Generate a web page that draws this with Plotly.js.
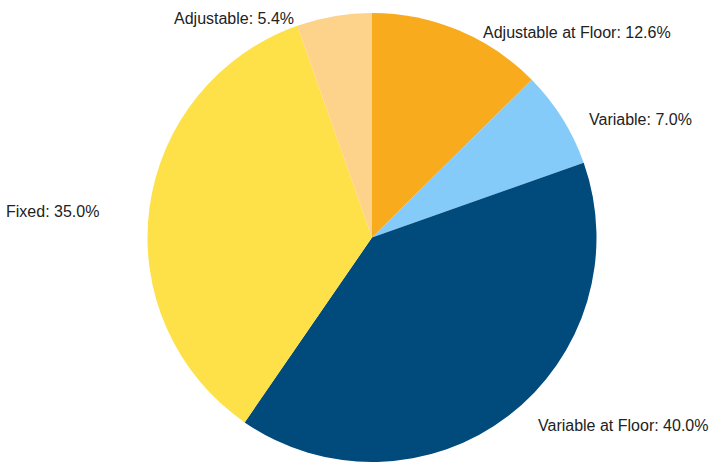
<!DOCTYPE html>
<html><head><meta charset="utf-8">
<script src="https://cdn.plot.ly/plotly-3.0.1.min.js"></script>
<style>html,body{margin:0;padding:0;background:#fff;}#chart{width:720px;height:462px;}</style>
</head><body><div id="chart"></div>
<script>
const categories = ["Adjustable at Floor", "Variable", "Variable at Floor", "Fixed", "Adjustable"];
const shares = [12.6, 7.0, 40.0, 35.0, 5.4];
const colors = ["#F8AB1C", "#85CBF9", "#004A7C", "#FEE148", "#FDD38C"];

// label placement (paper coordinates of the plot area) and anchor side
const labelX = [0.7444, 0.98, 0.8667, -0.1044, 0.3289];
const labelY = [0.9566, 0.7617, 0.0824, 0.559, 0.9878];
const labelAnchor = ["left", "left", "left", "right", "right"];

const trace = {
  type: "pie",
  labels: categories,
  values: shares,
  sort: false,
  direction: "clockwise",
  rotation: 0,
  marker: {colors: colors, line: {width: 0}},
  textinfo: "none",
  hoverinfo: "label+percent",
  showlegend: false
};
const annotations = categories.map((c, i) => ({
  text: c + ": " + shares[i].toFixed(1) + "%",
  xref: "paper", yref: "paper",
  x: labelX[i], y: labelY[i],
  xanchor: labelAnchor[i], yanchor: "middle",
  showarrow: false,
  borderpad: 0,
  font: {family: "Liberation Sans, Arial, sans-serif", size: 16, color: "#222"}
}));
const layout = {
  width: 720, height: 462,
  margin: {l: 147, r: 123, t: 13, b: 0, autoexpand: false},
  paper_bgcolor: "#fff",
  showlegend: false,
  annotations: annotations
};
Plotly.newPlot("chart", [trace], layout, {displayModeBar: false, staticPlot: true});
</script></body></html>
